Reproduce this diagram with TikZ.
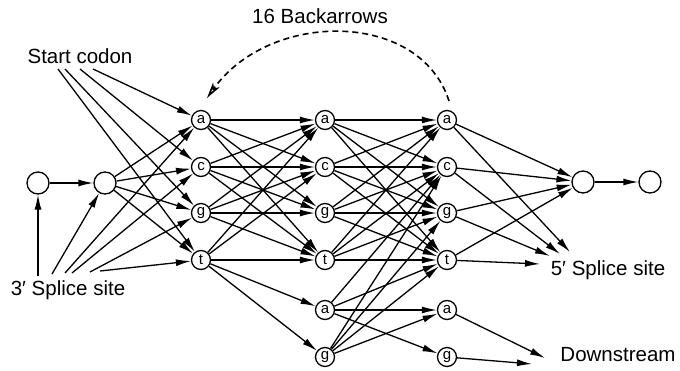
\documentclass[tikz,border=0pt]{standalone}
\usepackage{fontspec}
\setmainfont{Liberation Sans}
\usetikzlibrary{arrows.meta}
\begin{document}
\begin{tikzpicture}[x=1pt,y=-1pt,
  base/.style={circle,draw,line width=1.3pt,inner sep=0pt,minimum size=19pt,
    font=\fontsize{15}{15}\selectfont},
  hub/.style={circle,draw,line width=1.3pt,inner sep=0pt,minimum size=22pt},
  lab/.style={font=\fontsize{20.5}{20.5}\selectfont,inner sep=0pt},
  edge/.style={line width=1.3pt,-{Latex[length=15pt,width=7pt]}},
  back/.style={line width=1.6pt,dash pattern=on 6pt off 4pt,
    -{Stealth[open,length=16pt,width=8pt,inset=4pt]}}]
\useasboundingbox (0,0) rectangle (680,370);

% entry and exit states
\node[hub] (s0) at (38,183) {};
\node[hub] (s1) at (105,183) {};
\node[hub] (e1) at (583,182) {};
\node[hub] (e2) at (650,182) {};

% codon position 1
\node[base] (a1) at (201,120) {a};
\node[base] (c1) at (201,167) {c};
\node[base] (g1) at (201,213) {g};
\node[base] (t1) at (201,260) {t};
% codon position 2
\node[base] (a2) at (325,120) {a};
\node[base] (c2) at (325,167) {c};
\node[base] (g2) at (325,213) {g};
\node[base] (t2) at (325,260) {t};
\node[base] (x2) at (325,310) {a};
\node[base] (y2) at (325,357) {g};
% codon position 3
\node[base] (a3) at (447,120) {a};
\node[base] (c3) at (447,167) {c};
\node[base] (g3) at (447,213) {g};
\node[base] (t3) at (447,260) {t};
\node[base] (x3) at (447,310) {a};
\node[base] (y3) at (447,357) {g};

% labels
\node[lab] (lstart) at (80,56) {Start codon};
\node[lab] (lsplice3) at (68,290) {3′ Splice site};
\node[lab] (lsplice5) at (608,270) {5′ Splice site};
\node[lab] (ldown) at (618,355) {Downstream};
\node[lab] (lback) at (320,16) {16 Backarrows};

% free ends at the labels
\coordinate (scT) at (58,69);
\coordinate (scG) at (65,69);
\coordinate (scC) at (80,69);
\coordinate (scA) at (93,69);
\coordinate (p0) at (38,276);
\coordinate (p1) at (52,274);
\coordinate (p2) at (65,273);
\coordinate (p3) at (72,273);
\coordinate (p4) at (90,272);
\coordinate (p5) at (100,271);
\coordinate (q1) at (570,252);
\coordinate (q2) at (560,254);
\coordinate (q3) at (550,256);
\coordinate (q4) at (540,264);
\coordinate (d1) at (545,358);
\coordinate (d2) at (532,364);
\coordinate (bkS) at (449,101);
\coordinate (bkE) at (207,98);

% start codon and 3' splice site
\draw[edge] (scA) -- (a1);
\draw[edge] (scC) -- (c1);
\draw[edge] (scG) -- (g1);
\draw[edge] (scT) -- (t1);
\draw[edge] (p0) -- (s0);
\draw[edge] (p1) -- (s1);
\draw[edge] (p2) -- (a1);
\draw[edge] (p3) -- (c1);
\draw[edge] (p4) -- (g1);
\draw[edge] (p5) -- (t1);
\draw[edge] (s0) -- (s1);
\foreach \n in {a1,c1,g1,t1} \draw[edge] (s1) -- (\n);

% position 1 -> position 2
\foreach \m in {a1,c1,g1}
  \foreach \n in {a2,c2,g2,t2} \draw[edge] (\m) -- (\n);
\foreach \n in {a2,c2,t2,x2,y2} \draw[edge] (t1) -- (\n);

% position 2 -> position 3
\foreach \m in {a2,c2,g2,t2}
  \foreach \n in {a3,c3,g3,t3} \draw[edge] (\m) -- (\n);
\foreach \n in {c3,t3,x3,y3} \draw[edge] (x2) -- (\n);
\foreach \n in {c3,g3,t3,x3} \draw[edge] (y2) -- (\n);

% exits
\foreach \n in {a3,c3,g3,t3} \draw[edge] (\n) -- (e1);
\draw[edge] (a3) -- (q1);
\draw[edge] (c3) -- (q2);
\draw[edge] (g3) -- (q3);
\draw[edge] (t3) -- (q4);
\draw[edge] (x3) -- (d1);
\draw[edge] (y3) -- (d2);
\draw[edge] (e1) -- (e2);

% back transitions
\draw[back] (bkS) .. controls (420,10) and (270,10) .. (bkE);
\end{tikzpicture}
\end{document}
